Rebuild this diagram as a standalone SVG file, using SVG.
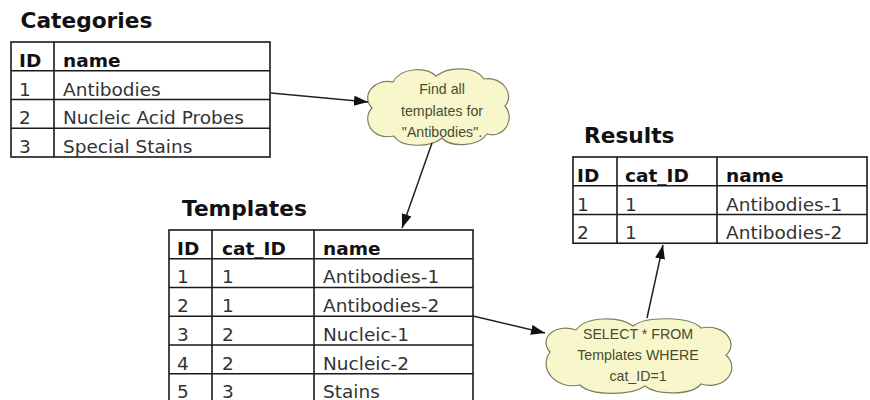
<svg xmlns="http://www.w3.org/2000/svg" width="870" height="400" viewBox="0 0 870 400">
<style>
.title{font-family:"DejaVu Sans",Verdana,sans-serif;font-weight:bold;font-size:21.7px;fill:#111}
.hd{font-family:"DejaVu Sans",Verdana,sans-serif;font-weight:bold;font-size:18.5px;fill:#111}
.td{font-family:"DejaVu Sans",Verdana,sans-serif;font-size:18.5px;fill:#333}
.grid{fill:none;stroke:#1a1a1a;stroke-width:1.6}
.cloud{fill:#f8f7cc;stroke:#7d7d62;stroke-width:1.2}
.ct{font-family:"Liberation Sans",Arial,sans-serif;font-size:14.2px;fill:#4a4a30;text-anchor:middle}
.conn{fill:none;stroke:#222;stroke-width:1.5}
</style>
<defs>
<marker id="arr" markerUnits="userSpaceOnUse" markerWidth="16" markerHeight="12" refX="14" refY="5" orient="auto">
<path d="M0,0 L14,5 L0,10 z" fill="#111"/>
</marker>
</defs>
<rect width="870" height="400" fill="#fff"/>

<g id="categories">
<text class="title" x="20.5" y="28">Categories</text>
<rect class="grid" x="11" y="42" width="259" height="115"/>
<path class="grid" d="M11,70.75H270M11,99.5H270M11,128.25H270M54,42V157"/>
<text class="hd" x="19" y="67">ID</text><text class="hd" x="63" y="67">name</text>
<text class="td" x="19" y="95.5">1</text><text class="td" x="63" y="95.5">Antibodies</text>
<text class="td" x="19" y="124.25">2</text><text class="td" x="63" y="124.25">Nucleic Acid Probes</text>
<text class="td" x="19" y="153">3</text><text class="td" x="63" y="153">Special Stains</text>
</g>

<g id="templates">
<text class="title" x="182" y="216">Templates</text>
<rect class="grid" x="169" y="230" width="304" height="172.5"/>
<path class="grid" d="M169,258.75H473M169,287.5H473M169,316.25H473M169,345H473M169,373.75H473M212,230V402.5M314,230V402.5"/>
<text class="hd" x="177" y="254.5">ID</text><text class="hd" x="222" y="254.5">cat_ID</text><text class="hd" x="323" y="254.5">name</text>
<text class="td" x="177" y="283.25">1</text><text class="td" x="222" y="283.25">1</text><text class="td" x="323" y="283.25">Antibodies-1</text>
<text class="td" x="177" y="312">2</text><text class="td" x="222" y="312">1</text><text class="td" x="323" y="312">Antibodies-2</text>
<text class="td" x="177" y="340.75">3</text><text class="td" x="222" y="340.75">2</text><text class="td" x="323" y="340.75">Nucleic-1</text>
<text class="td" x="177" y="369.5">4</text><text class="td" x="222" y="369.5">2</text><text class="td" x="323" y="369.5">Nucleic-2</text>
<text class="td" x="177" y="397.5">5</text><text class="td" x="222" y="397.5">3</text><text class="td" x="323" y="397.5">Stains</text>
</g>

<g id="results">
<text class="title" x="584" y="143">Results</text>
<rect class="grid" x="573" y="157" width="294" height="86.25"/>
<path class="grid" d="M573,185.75H867M573,214.5H867M617,157V243.25M717,157V243.25"/>
<text class="hd" x="577" y="182">ID</text><text class="hd" x="625" y="182">cat_ID</text><text class="hd" x="726" y="182">name</text>
<text class="td" x="577" y="210.5">1</text><text class="td" x="625" y="210.5">1</text><text class="td" x="726" y="210.5">Antibodies-1</text>
<text class="td" x="577" y="239.25">2</text><text class="td" x="625" y="239.25">1</text><text class="td" x="726" y="239.25">Antibodies-2</text>
</g>

<g id="cloud-find">
<path class="cloud" d="M372,108 C360,95 375,78 393,82 C400,68 425,66 436,76 C449,66 476,66 484,79 C503,76 515,95 505,106 C516,119 504,139 487,134 C477,148 450,147 442,138 C430,148 401,148 394,136 C372,141 361,120 372,108 Z"/>
<text class="ct" x="442" y="94">Find all</text>
<text class="ct" x="442" y="115.5">templates for</text>
<text class="ct" x="442" y="137">&quot;Antibodies&quot;.</text>
</g>

<g id="cloud-select">
<path class="cloud" d="M550,352 C538,338 555,323 576,330 C586,316 620,316 633,326 C646,316 690,316 701,328 C725,323 739,344 726,355 C741,369 725,391 701,384 C691,396 656,395 645,386 C631,396 591,396 580,385 C555,390 538,368 550,352 Z"/>
<text class="ct" x="638" y="339">SELECT * FROM</text>
<text class="ct" x="638" y="360">Templates WHERE</text>
<text class="ct" x="638" y="380.5">cat_ID=1</text>
</g>

<g id="connectors">
<line class="conn" x1="271" y1="93" x2="368" y2="102" marker-end="url(#arr)"/>
<line class="conn" x1="432" y1="143" x2="402" y2="228" marker-end="url(#arr)"/>
<line class="conn" x1="473" y1="316" x2="545" y2="333" marker-end="url(#arr)"/>
<line class="conn" x1="647" y1="318" x2="663" y2="245" marker-end="url(#arr)"/>
</g>
</svg>
